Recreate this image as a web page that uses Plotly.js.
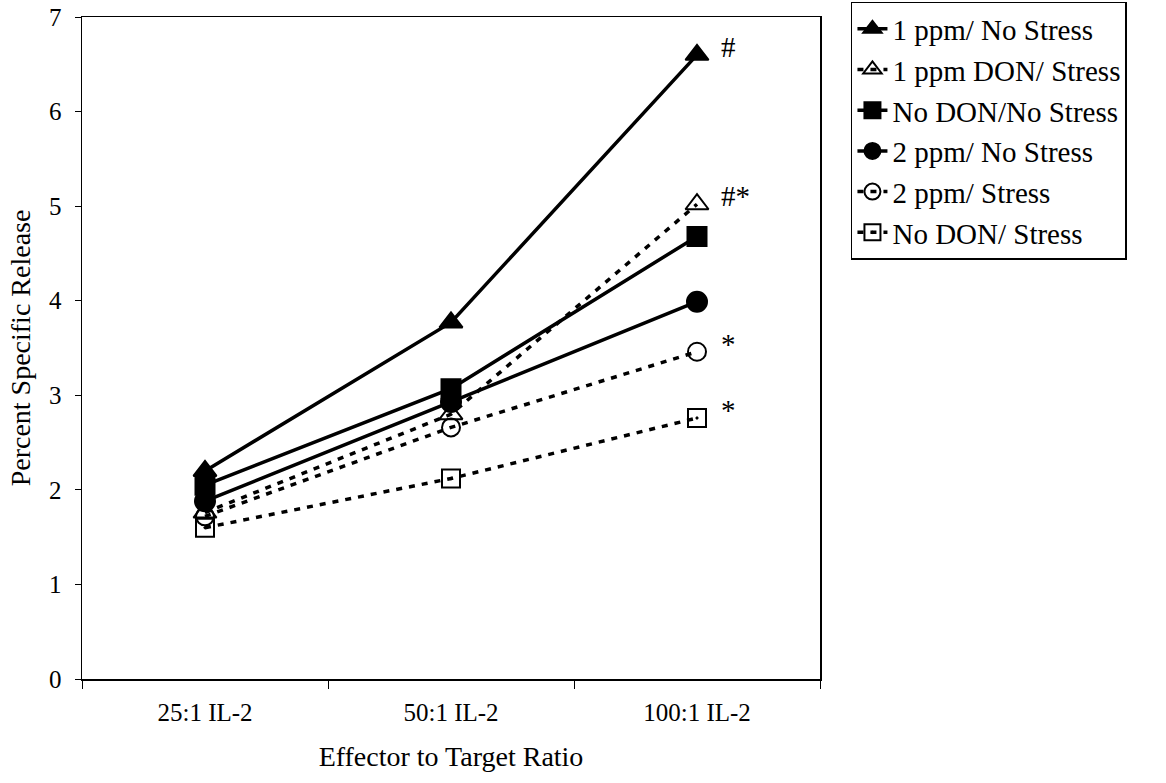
<!DOCTYPE html>
<html>
<head>
<meta charset="utf-8">
<script src="https://cdn.plot.ly/plotly-3.0.1.min.js"></script>
<style>html,body{margin:0;padding:0;background:#fff;}#chart{width:1166px;height:783px;}</style>
</head>
<body>
<div id="chart"></div>
<script>
const categories = ["25:1 IL-2", "50:1 IL-2", "100:1 IL-2"];
const seriesNames = ["1 ppm/ No Stress", "1 ppm DON/ Stress", "No DON/No Stress", "2 ppm/ No Stress", "2 ppm/ Stress", "No DON/ Stress"];
const ppm1NoStress = [2.2, 3.77, 6.6];
const ppm1Stress = [1.76, 2.8, 5.02];
const noDonNoStress = [2.05, 3.07, 4.68];
const ppm2NoStress = [1.88, 2.93, 3.99];
const ppm2Stress = [1.72, 2.66, 3.46];
const noDonStress = [1.6, 2.12, 2.76];
const significance = ["#", "#*", "", "", "*", "*"];

const values = [ppm1NoStress, ppm1Stress, noDonNoStress, ppm2NoStress, ppm2Stress, noDonStress];
const symbols = ["triangle-up", "triangle-up-open", "square", "circle", "circle-open", "square-open-dot"];
const dashes = ["solid", "6px,7px", "solid", "solid", "6px,7px", "6px,7px"];
const sizes = [20, 20, 19, 20, 18, 18];

const traces = values.map((v, i) => ({
  type: "scatter",
  mode: "lines+markers",
  x: categories,
  y: v,
  name: seriesNames[i],
  line: {color: "#000", width: 3.5, dash: dashes[i]},
  marker: {symbol: symbols[i], size: sizes[i], color: "#000", line: {color: "#000", width: 2}},
  cliponaxis: false
}));

const annotations = [];
values.forEach((v, i) => {
  if (significance[i]) {
    annotations.push({
      x: categories[2], y: v[2], xref: "x", yref: "y",
      text: significance[i], showarrow: false,
      xanchor: "left", yanchor: "middle", xshift: 22, yshift: 8,
      font: {family: "Liberation Serif", size: 29, color: "#000"}
    });
  }
});

const layout = {
  width: 1166, height: 783,
  margin: {l: 82, r: 346, t: 17, b: 104, autoexpand: false},
  paper_bgcolor: "#fff", plot_bgcolor: "#fff",
  font: {family: "Liberation Serif", size: 24, color: "#000"},
  showlegend: true,
  legend: {
    xref: "container", yref: "container",
    x: 0.7298, y: 0.9975, xanchor: "left", yanchor: "top",
    bordercolor: "#000", borderwidth: 1.5, bgcolor: "#fff",
    font: {family: "Liberation Serif", size: 29, color: "#000"},
    itemwidth: 30
  },
  xaxis: {
    type: "category", range: [-0.5, 2.5],
    showline: true, linecolor: "#000", linewidth: 1.5, mirror: true,
    ticks: "outside", tickson: "boundaries", ticklen: 8, tickcolor: "#000", tickwidth: 1,
    showgrid: false, zeroline: false, ticklabelstandoff: 10,
    tickfont: {family: "Liberation Serif", size: 25},
    title: {text: "Effector to Target Ratio", font: {family: "Liberation Serif", size: 28}, standoff: 22}
  },
  yaxis: {
    range: [0, 7], dtick: 1,
    showline: true, linecolor: "#000", linewidth: 1.5, mirror: true,
    ticks: "outside", ticklen: 6, tickcolor: "#000", tickwidth: 1,
    showgrid: false, zeroline: false, ticklabelstandoff: 8,
    tickfont: {family: "Liberation Serif", size: 25},
    title: {text: "Percent Specific Release", font: {family: "Liberation Serif", size: 28}, standoff: 10}
  },
  annotations: annotations
};

Plotly.newPlot("chart", traces, layout, {displayModeBar: false, staticPlot: true});
</script>
</body>
</html>
